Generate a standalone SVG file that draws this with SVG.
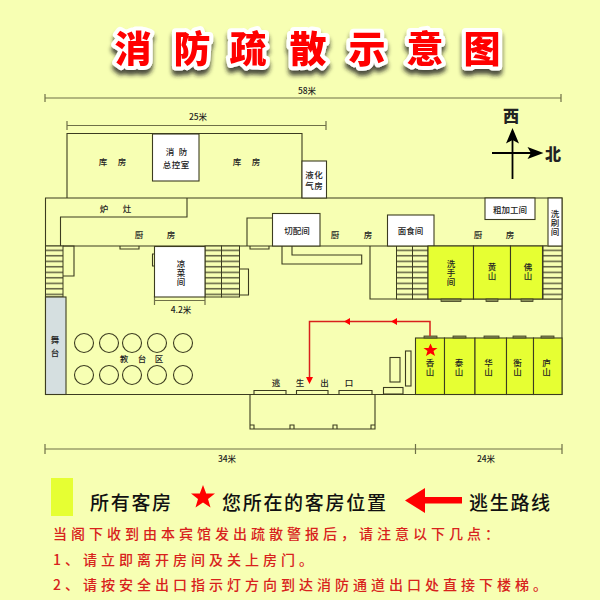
<svg xmlns="http://www.w3.org/2000/svg" width="600" height="600" viewBox="0 0 600 600">
<style>
text{font-family:"Noto Sans CJK SC","Liberation Sans",sans-serif;fill:#222;text-anchor:middle;dominant-baseline:central}
.w{fill:none;stroke:#3c3c20;stroke-width:1.1}
.r{fill:#fff;stroke:#3c3c20;stroke-width:1.1}
.y{fill:#e6ff33;stroke:#3c3c20;stroke-width:1.1}
.s{fill:url(#st);stroke:#3c3c20;stroke-width:1}
.g{fill:#8a8f5a;stroke:#3c3c20;stroke-width:.8}
.d{fill:none;stroke:#6f7048;stroke-width:1.2}
.l{font-size:8.500px;font-weight:500}
.t{font-size:37px;font-weight:900;fill:#f00;stroke:#fff;stroke-width:8px;stroke-linejoin:round;paint-order:stroke}
.k{font-size:19px;font-weight:500;fill:#111;letter-spacing:1.700px;text-anchor:start}
.n{font-size:14px;font-weight:500;fill:#d8221c;text-anchor:start;letter-spacing:4px}
.rt{fill:none;stroke:#d8201c;stroke-width:1.500}
</style>
<defs>
<pattern id="st" width="10" height="5.500" patternUnits="userSpaceOnUse" y="246"><rect width="10" height="5.500" fill="#f7ffb3"/><rect y="3.600" width="10" height="1.400" fill="#55553a"/></pattern>
<filter id="sh" x="-5%" y="-20%" width="110%" height="150%"><feDropShadow dx="0" dy="5" stdDeviation="2.200" flood-color="#222" flood-opacity=".8"/></filter>
</defs>
<rect width="600" height="600" fill="#f7ffb3"/>
<g id="title" filter="url(#sh)">
<text class="t" x="133 192 248 308 367 425 482" y="47">消防疏散示意图</text>
</g>
<g id="dimensions">
<path class="d" d="M45 94V102M45 98H561M561 94V102M67 121V130M67 125.500H326M326 121V130M154.500 296V305M154.500 300.500H205M205 296V305M45 444V454M45 449H562M415.500 444V454M562 444V454"/>
<text class="l" x="307" y="89.500">58米</text><text class="l" x="198" y="116">25米</text><text class="l" x="181" y="309">4.2米</text><text class="l" x="227" y="458">34米</text><text class="l" x="486" y="458">24米</text>
</g>
<g id="walls">
<path class="w" d="M45.500 395V198H562V394.500H45.500M67 198V133.500H302V198M187 198V217H60.500V246M45.500 246H547M247 246V218H272M282 246V264H361.700V255H292V246M370 246V299H562"/>
</g>
<g id="stairs">
<rect class="s" x="45.500" y="246" width="17.500" height="51"/>
<rect class="s" x="205" y="246" width="16.500" height="51"/><rect class="s" x="221.500" y="246" width="18" height="51"/>
<rect class="s" x="396.500" y="246" width="16" height="53"/><rect class="s" x="412.500" y="246" width="15.500" height="53"/>
<rect class="s" x="543" y="246" width="19" height="53"/>
<path class="w" d="M63 246H74V276H63M239.500 269H248.500V295H239.500M120 246V249H139V246M250 246V249H269V246M154.500 254H152.500V266H154.500"/>
</g>
<g id="room-kufang1"><text class="l" x="103 122" y="160.500">库房</text></g>
<g id="room-xiaofang"><rect class="r" x="152.500" y="134" width="46.500" height="47"/><text class="l" x="170 183 167 176 185" y="151 151 163.500 163.500 163.500">消防总控室</text></g>
<g id="room-kufang2"><text class="l" x="237 256" y="160.500">库房</text></g>
<g id="room-yehuaqi"><rect class="r" x="302" y="161" width="24.500" height="37"/><text class="l" x="309.500 318.500 309.500 318.500" y="174 174 185 185">液化气房</text></g>
<g id="room-luzao"><text class="l" x="104 127" y="208">炉灶</text></g>
<g id="room-chufang1"><text class="l" x="139 171" y="233.500">厨房</text></g>
<g id="room-liangcai"><rect class="r" x="154.500" y="246.500" width="50.500" height="50.500"/><text class="l" x="181 181 181" y="263 272 281">凉菜间</text></g>
<g id="room-qiepei"><rect class="r" x="272.500" y="213.500" width="47.500" height="32.500"/><text class="l" x="297" y="230">切配间</text></g>
<g id="room-chufang2"><text class="l" x="335 368" y="233.500">厨房</text></g>
<g id="room-mianshi"><rect class="r" x="387.500" y="215" width="46.500" height="31"/><text class="l" x="410.500" y="230">面食间</text></g>
<g id="room-chufang3"><text class="l" x="478 510" y="233.500">厨房</text></g>
<g id="room-cujiagong"><rect class="r" x="485" y="198" width="50" height="21.500"/><text class="l" x="510" y="209">粗加工间</text></g>
<g id="room-xishua"><rect class="r" x="548" y="198" width="14" height="48"/><text class="l" x="555 555 555" y="213 222 231">洗刷间</text></g>
<g id="room-xishou"><rect class="y" x="428" y="246" width="45.500" height="53"/><text class="l" x="451 451 451" y="263 272 281">洗手间</text><rect class="g" x="441" y="299" width="20" height="2.500"/></g>
<g id="room-huangshan"><rect class="y" x="473.500" y="246" width="37" height="53"/><text class="l" x="492 492" y="266 275">黄山</text><rect class="g" x="486" y="299" width="12" height="2.500"/></g>
<g id="room-foshan"><rect class="y" x="510.500" y="246" width="32" height="53"/><text class="l" x="528 528" y="266 275">佛山</text><rect class="g" x="521" y="299" width="12" height="2.500"/></g>
<g id="room-wutai"><rect x="45.500" y="297" width="20.500" height="97.500" fill="#d5dfe0" stroke="#3c3c20" stroke-width="1.100"/><text class="l" x="55 55" y="339 352">舞台</text></g>
<g id="tables" class="w">
<circle cx="84" cy="343" r="9.500"/><circle cx="109" cy="343" r="9.500"/><circle cx="132" cy="343" r="9.500"/><circle cx="157" cy="343" r="9.500"/><circle cx="183" cy="343" r="9.500"/>
<circle cx="84" cy="375" r="9.500"/><circle cx="109" cy="375" r="9.500"/><circle cx="132" cy="375" r="9.500"/><circle cx="157" cy="375" r="9.500"/><circle cx="183" cy="375" r="9.500"/>
</g>
<text class="l" x="124 142 159" y="358">教台区</text>
<g id="exit">
<path class="w" d="M250 394.500V429H375V394.500M250 425H254V429M290 429V425H294V429M333 429V425H337V429M371 429V425H375"/>
<path class="w" d="M254 394.500V390.500H286V394.500M296.500 394.500V390.500H328V394.500M339 394.500V390.500H372V394.500"/>
<rect class="w" x="383.500" y="387.500" width="19.500" height="6.500"/><rect class="w" x="390" y="357.500" width="10" height="24.500"/><rect class="w" x="405.500" y="351" width="5.500" height="35"/>
<text class="l" x="276 300 324.500 349" y="382">逃生出口</text>
</g>
<g id="room-xiangshan"><rect class="y" x="415.500" y="338" width="29" height="56.500"/><rect class="g" x="424" y="336" width="13" height="2"/><text class="l" x="430 430" y="362 371">香山</text></g>
<g id="room-taishan"><rect class="y" x="444.500" y="338" width="30.500" height="56.500"/><rect class="g" x="453" y="336" width="13" height="2"/><text class="l" x="459 459" y="362 371">泰山</text></g>
<g id="room-huashan"><rect class="y" x="475" y="338" width="31.500" height="56.500"/><rect class="g" x="484" y="336" width="15" height="2"/><text class="l" x="488.500 488.500" y="362 371">华山</text></g>
<g id="room-hengshan"><rect class="y" x="506.500" y="338" width="27" height="56.500"/><rect class="g" x="513" y="336" width="13" height="2"/><text class="l" x="517.500 517.500" y="362 371">衡山</text></g>
<g id="room-lushan"><rect class="y" x="533.500" y="338" width="28.500" height="56.500"/><rect class="g" x="541" y="336" width="13" height="2"/><text class="l" x="546.500 546.500" y="362 371">庐山</text></g>
<g id="connectors">
<path class="rt" d="M430 336V321.500H309.500V378"/>
<path fill="#f00" d="M391 321.500L397 318V325ZM344 321.500L350 318V325ZM306 377H313L309.500 384Z"/>
</g>
<g id="star"><path fill="#f00" d="M430.500 343.500L432.500 348H437.500L433.500 351L435 356L430.500 353.200L426 356L427.500 351L423.500 348H428.500Z"/></g>
<g id="compass">
<path fill="none" stroke="#000" stroke-width="1.800" d="M512.500 179V135M492 153H535"/>
<path fill="#000" d="M512.500 128L519 143.500L512.500 140L506 143.500ZM543.500 153L527.500 147L531 153L527.500 159Z"/>
<text x="511" y="115" font-size="16" font-weight="900" fill="#000">西</text><text x="553" y="153" font-size="16" font-weight="900" fill="#000">北</text>
</g>
<g id="legend">
<rect x="51" y="478" width="22" height="38" fill="#e6ff33"/>
<text class="k" x="90" y="501">所有客房</text>
<path fill="#f00" d="M203 485L206.200 493.500H215L208 499L210.500 507.500L203 502.500L195.500 507.500L198 499L191 493.500H199.800Z"/>
<text class="k" x="222" y="501">您所在的客房位置</text>
<path fill="#f00" d="M405 500.500L425 488V497H462V503.500H425V513Z"/>
<text class="k" x="469" y="501">逃生路线</text>
</g>
<g id="notes">
<text class="n" x="53" y="533">当阁下收到由本宾馆发出疏散警报后，请注意以下几点：</text>
<text class="n" x="53" y="558.500">1、请立即离开房间及关上房门。</text>
<text class="n" x="53" y="583.500">2、请按安全出口指示灯方向到达消防通道出口处直接下楼梯。</text>
</g>
</svg>
